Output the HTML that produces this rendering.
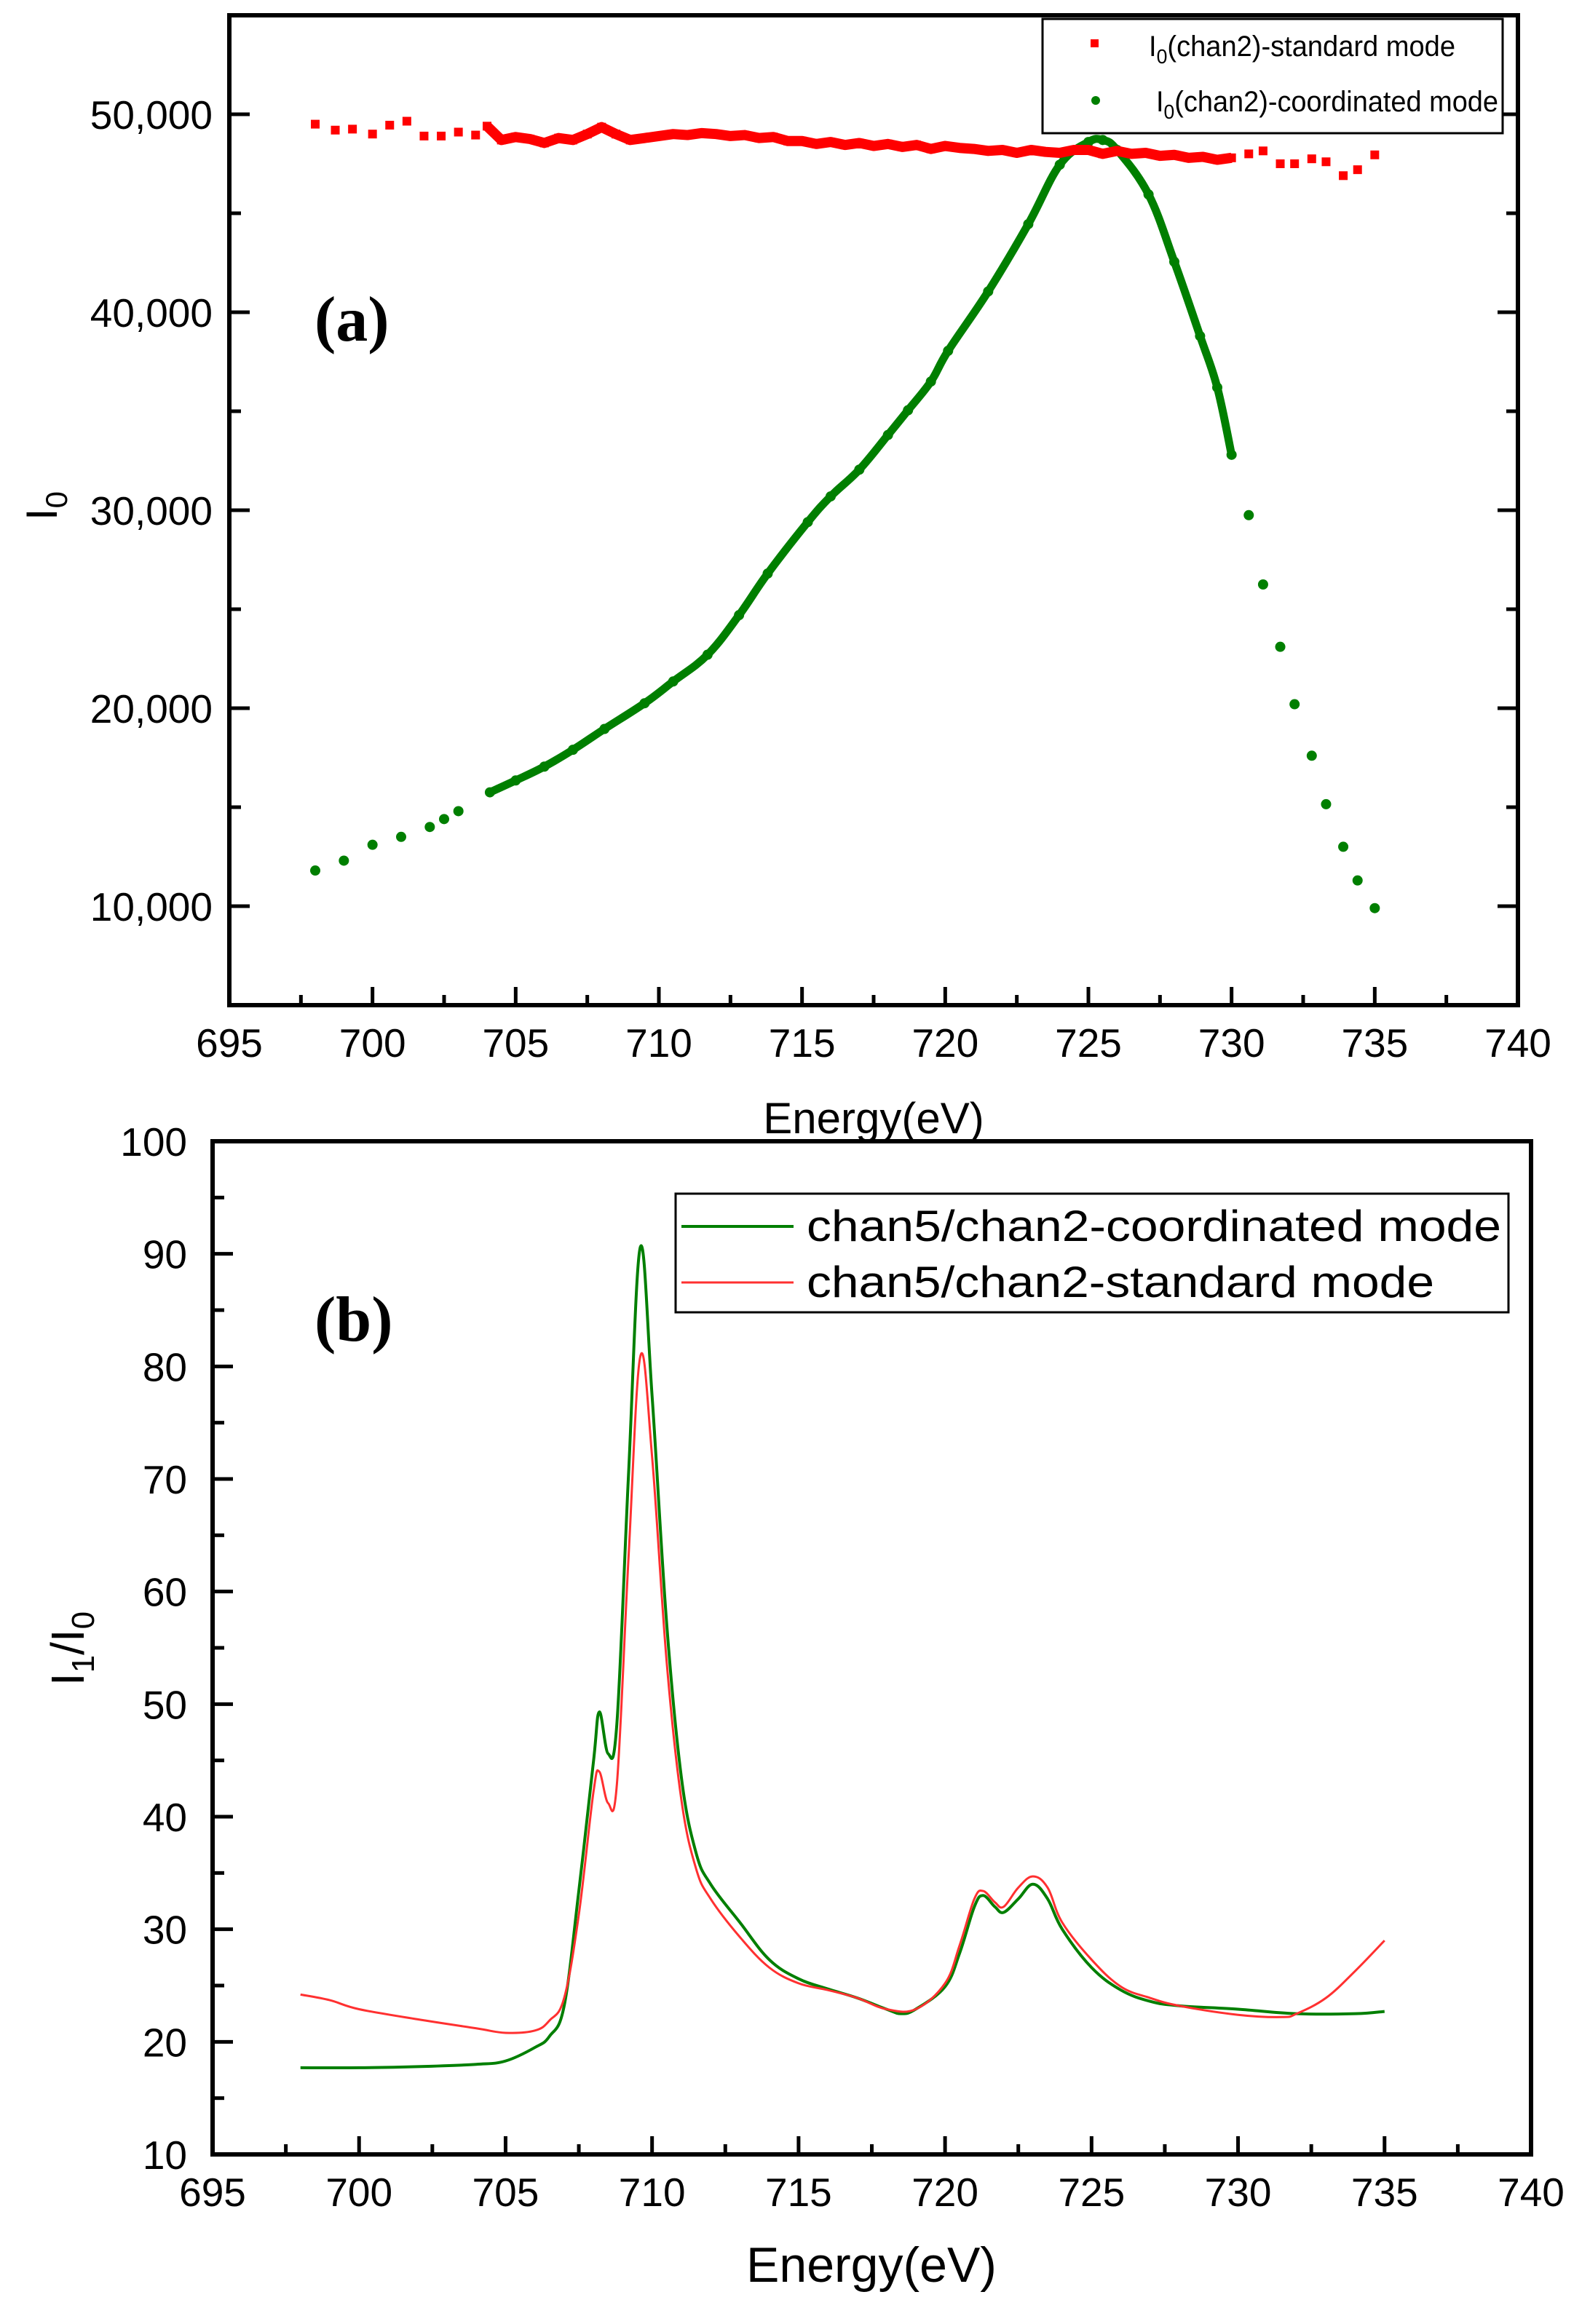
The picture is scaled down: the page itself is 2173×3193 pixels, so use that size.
<!DOCTYPE html>
<html><head><meta charset="utf-8"><style>
html,body{margin:0;padding:0;background:#fff;}
svg{display:block;font-family:"Liberation Sans",sans-serif;}
</style></head><body>
<svg id="chart" width="2173" height="3193" viewBox="0 0 2173 3193" xmlns="http://www.w3.org/2000/svg">
<g id="pa"></g>
<g id="pb"></g>
</svg>
<script>
// ---- Panel (a) data ----
const aGreenX = [698,699,700,701,702,702.5,703,704.1,705,706,707,708.1,709.5,710.5,711.7,712.8,713.8,715.2,716,717,718,718.7,719.5,720.1,721.5,722.9,724,725,725.5,726,727.1,728,728.9,729.5,730,730.6,731.1,731.7,732.2,732.8,733.3,733.9,734.4,735];
const aGreenY = [11800,12300,13100,13500,14000,14400,14800,15750,16350,17050,17900,18950,20250,21350,22700,24700,26800,29400,30700,32050,33800,35050,36500,38050,41050,44450,47450,48600,48700,48200,45950,42550,38800,36200,32800,29750,26250,23100,20200,17600,15150,13000,11300,9900];
const aRedX = [698,698.7,699.3,700,700.6,701.2,701.8,702.4,703,703.6,704,704.5,705,705.5,706,706.5,707,707.5,708,708.5,709,709.5,710,710.5,711,711.5,712,712.5,713,713.5,714,714.5,715,715.5,716,716.5,717,717.5,718,718.5,719,719.5,720,720.5,721,721.5,722,722.5,723,723.5,724,724.5,725,725.5,726,726.5,727,727.5,728,728.5,729,729.5,730,730.6,731.1,731.7,732.2,732.8,733.3,733.9,734.4,735];
const aRedY = [49500,49200,49250,49000,49450,49650,48900,48900,49100,48950,49400,48700,48850,48750,48550,48800,48700,49000,49350,49000,48700,48800,48900,49000,48950,49050,49000,48900,48950,48800,48850,48650,48650,48500,48600,48450,48550,48400,48500,48350,48450,48250,48400,48300,48250,48150,48200,48050,48200,48100,48050,48200,48200,48000,48150,48000,48050,47900,47950,47800,47850,47700,47800,48000,48150,47500,47500,47750,47600,46900,47200,47950];
const aXTicks = [695,700,705,710,715,720,725,730,735,740];
const aYTicks = [10000,20000,30000,40000,50000];
const aYLabels = ["10,000","20,000","30,000","40,000","50,000"];
// ---- Panel (b) data ----
const bGreenX = [698,700,702,704,705,706,706.5,707,707.5,708,708.2,708.5,708.8,709.2,709.6,710,710.5,711,711.5,712,713,714,715,716,717,718,718.5,719,720,720.5,721,721.3,721.7,722,722.5,723,723.5,724,725,726,727,728,730,732,734,735];
const bGreenY = [17.7,17.7,17.8,18,18.3,19.5,20.5,23.2,33.4,44.9,49.3,45.6,48.3,70.6,90.6,77.4,57.1,43.5,36.8,34,30.6,27.3,25.6,24.7,23.9,22.9,22.5,22.9,24.9,27.9,32,33,32,31.5,32.7,34,32.7,30,26.6,24.6,23.6,23.2,22.9,22.5,22.5,22.7];
const bRedX = [698,699,700,702,704,705,706,706.5,707,707.5,708,708.2,708.5,708.8,709.2,709.6,710,710.5,711,711.5,712,713,714,715,716,717,718,719,720,720.5,721,721.3,721.7,722,722.5,723,723.5,724,725,726,727,728,730,731.5,732,733,734,735];
const bRedY = [24.2,23.7,22.9,22,21.2,20.8,21,21.9,23.9,31.3,42.2,44,41.2,42.9,63.2,80.9,72,53.7,41.5,35.4,32.7,29.3,26.6,25.2,24.6,23.9,22.9,22.9,25.2,28.6,32.7,33.4,32.4,32,33.7,34.7,33.7,30.6,27.3,24.9,23.9,23.2,22.4,22.2,22.5,23.9,26.3,29];
const bXTicks = [695,700,705,710,715,720,725,730,735,740];
const bYTicks = [10,20,30,40,50,60,70,80,90,100];

const NS="http://www.w3.org/2000/svg";
function mk(parent,tag,attrs,txt){const e=document.createElementNS(NS,tag);for(const k in attrs)e.setAttribute(k,attrs[k]);if(txt!==undefined)e.textContent=txt;parent.appendChild(e);return e;}
function smooth(pts){let d='M'+pts[0][0]+','+pts[0][1];for(let i=0;i<pts.length-1;i++){const p0=pts[i-1]||pts[i],p1=pts[i],p2=pts[i+1],p3=pts[i+2]||p2;const t=0.18;
d+=' C'+(p1[0]+(p2[0]-p0[0])*t)+','+(p1[1]+(p2[1]-p0[1])*t)+' '+(p2[0]-(p3[0]-p1[0])*t)+','+(p2[1]-(p3[1]-p1[1])*t)+' '+p2[0]+','+p2[1];}return d;}

// ===== Panel a =====
const A={x0:315,x1:2085,y0:21,y1:1381,xmin:695,xmax:740,ymin:5000,ymax:55000};
const ax=v=>A.x0+(v-A.xmin)/(A.xmax-A.xmin)*(A.x1-A.x0);
const ay=v=>A.y1-(v-A.ymin)/(A.ymax-A.ymin)*(A.y1-A.y0);
const pa=document.getElementById('pa');
let fr=mk(pa,'rect',{x:A.x0,y:A.y0,width:A.x1-A.x0,height:A.y1-A.y0,fill:'none',stroke:'#000','stroke-width':6});


for(let v=697.5;v<740;v+=2.5){const maj=(v%5===0);const t=mk(pa,'line',{x1:ax(v),x2:ax(v),y1:A.y1,y2:A.y1-(maj?25:14),stroke:'#000','stroke-width':5});

}
aXTicks.forEach(v=>{const t=mk(pa,'text',{x:ax(v),y:1452,'font-size':55,'text-anchor':'middle'},String(v));

});
for(let v=10000;v<=50000;v+=5000){const maj=(v%10000===0);
const t=mk(pa,'line',{x1:A.x0,x2:A.x0+(maj?28:16),y1:ay(v),y2:ay(v),stroke:'#000','stroke-width':5});


const t2=mk(pa,'line',{x1:A.x1,x2:A.x1-(maj?28:16),y1:ay(v),y2:ay(v),stroke:'#000','stroke-width':5});

}
aYTicks.forEach((v,i)=>{const t=mk(pa,'text',{x:292,y:ay(v)+20,'font-size':55,'text-anchor':'end'},aYLabels[i]);

});
let xt=mk(pa,'text',{x:1200,y:1557,'font-size':60,'text-anchor':'middle'},'Energy(eV)');


let yt=mk(pa,'text',{x:0,y:0,'font-size':60,'text-anchor':'middle',transform:'translate(78,695) rotate(-90)'});


mk(yt,'tspan',{},'I');mk(yt,'tspan',{'font-size':42,dy:14},'0');
let la=mk(pa,'text',{x:432,y:468,'font-size':88,'font-weight':'bold','font-family':'Liberation Serif, serif'},'(a)');


// green band + dots
let gpts=[];aGreenX.forEach((x,i)=>{if(x>=704&&x<=730)gpts.push([ax(x),ay(aGreenY[i])]);});
let gl=mk(pa,'path',{d:smooth(gpts),fill:'none',stroke:'#007f00','stroke-width':11,'stroke-linejoin':'round','stroke-linecap':'round'});


aGreenX.forEach((x,i)=>{const c=mk(pa,'circle',{cx:ax(x),cy:ay(aGreenY[i]),r:7,fill:'#007f00'});

});
let rp=aRedX.filter(x=>x>=704&&x<=730).map(x=>ax(x)+','+ay(aRedY[aRedX.indexOf(x)])).join(' ');
let rl=mk(pa,'polyline',{points:rp,fill:'none',stroke:'#ff0000','stroke-width':14,'stroke-linejoin':'round'});


aRedX.forEach((x,i)=>{const r=mk(pa,'rect',{x:ax(x)-6,y:ay(aRedY[i])-6,width:12,height:12,fill:'#ff0000'});

});
// legend a
let lg=mk(pa,'g',{});


mk(lg,'rect',{x:1432,y:26,width:632,height:157,fill:'#fff',stroke:'#000','stroke-width':3});
mk(lg,'rect',{x:1498,y:54,width:11,height:11,fill:'#ff0000'});
let t1=mk(lg,'text',{x:1578,y:77,'font-size':40,textLength:421,lengthAdjust:'spacingAndGlyphs'});
mk(t1,'tspan',{},'I');mk(t1,'tspan',{'font-size':28,dy:10},'0');mk(t1,'tspan',{dy:-10},'(chan2)-standard mode');


mk(lg,'circle',{cx:1505,cy:138,r:6,fill:'#007f00'});
let t2=mk(lg,'text',{x:1588,y:153,'font-size':40,textLength:470,lengthAdjust:'spacingAndGlyphs'});
mk(t2,'tspan',{},'I');mk(t2,'tspan',{'font-size':28,dy:10},'0');mk(t2,'tspan',{dy:-10},'(chan2)-coordinated mode');



// ===== Panel b =====
const B={x0:292,x1:2103,y0:1568,y1:2960,xmin:695,xmax:740,ymin:10,ymax:100};
const bx=v=>B.x0+(v-B.xmin)/(B.xmax-B.xmin)*(B.x1-B.x0);
const by=v=>B.y1-(v-B.ymin)/(B.ymax-B.ymin)*(B.y1-B.y0);
const pb=document.getElementById('pb');
let fb=mk(pb,'rect',{x:B.x0,y:B.y0,width:B.x1-B.x0,height:B.y1-B.y0,fill:'none',stroke:'#000','stroke-width':6});


for(let v=697.5;v<740;v+=2.5){const maj=(v%5===0);const t=mk(pb,'line',{x1:bx(v),x2:bx(v),y1:B.y1,y2:B.y1-(maj?25:14),stroke:'#000','stroke-width':5});

}
bXTicks.forEach(v=>{const t=mk(pb,'text',{x:bx(v),y:3031,'font-size':55,'text-anchor':'middle'},String(v));

});
for(let v=15;v<100;v+=5){const maj=(v%10===0);const t=mk(pb,'line',{x1:B.x0,x2:B.x0+(maj?28:16),y1:by(v),y2:by(v),stroke:'#000','stroke-width':5});

}
bYTicks.forEach(v=>{const t=mk(pb,'text',{x:257,y:by(v)+20,'font-size':55,'text-anchor':'end'},String(v));

});
let xtb=mk(pb,'text',{x:1197,y:3135,'font-size':68,'text-anchor':'middle'},'Energy(eV)');


let ytb=mk(pb,'text',{x:0,y:0,'font-size':64,'text-anchor':'middle',transform:'translate(115,2265) rotate(-90)'});


mk(ytb,'tspan',{},'I');mk(ytb,'tspan',{'font-size':44,dy:14},'1');mk(ytb,'tspan',{dy:-14},'/I');mk(ytb,'tspan',{'font-size':44,dy:14},'0');
let lb=mk(pb,'text',{x:432,y:1842,'font-size':88,'font-weight':'bold','font-family':'Liberation Serif, serif'},'(b)');


let gline=mk(pb,'path',{d:smooth(bGreenX.map((x,i)=>[bx(x),by(bGreenY[i])])),fill:'none',stroke:'#007f00','stroke-width':4,'stroke-linejoin':'round'});


let rline=mk(pb,'path',{d:smooth(bRedX.map((x,i)=>[bx(x),by(bRedY[i])])),fill:'none',stroke:'#ff3030','stroke-width':3,'stroke-linejoin':'round'});


let lg2=mk(pb,'g',{});


mk(lg2,'rect',{x:928,y:1640,width:1144,height:163,fill:'#fff',stroke:'#000','stroke-width':3});
mk(lg2,'line',{x1:936,x2:1090,y1:1685,y2:1685,stroke:'#007f00','stroke-width':4});
let e1=mk(lg2,'text',{x:1108,y:1705,'font-size':60,textLength:954,lengthAdjust:'spacingAndGlyphs'},'chan5/chan2-coordinated mode');


mk(lg2,'line',{x1:936,x2:1090,y1:1762,y2:1762,stroke:'#ff3030','stroke-width':3});
let e2=mk(lg2,'text',{x:1108,y:1782,'font-size':60,textLength:862,lengthAdjust:'spacingAndGlyphs'},'chan5/chan2-standard mode');


</script>
</body></html>
